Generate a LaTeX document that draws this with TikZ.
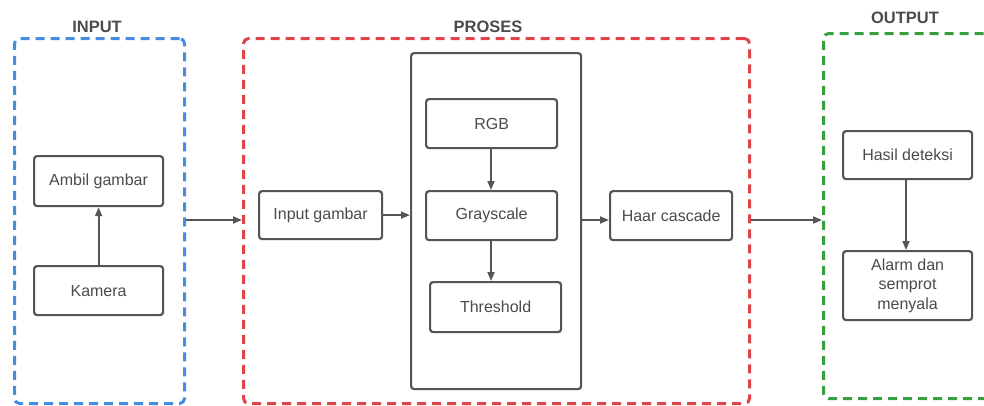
\documentclass[tikz,border=0pt]{standalone}
\usepackage{fontspec}
\setmainfont{Liberation Sans}
\usetikzlibrary{arrows.meta,positioning}
\definecolor{cblue}{RGB}{70,140,225}
\definecolor{cred}{RGB}{222,68,72}
\definecolor{cgreen}{RGB}{55,160,60}
\definecolor{cline}{RGB}{85,85,85}
\definecolor{ctext}{RGB}{75,75,75}
\tikzset{
  x=1pt, y=-1pt,
  group/.style={draw, line width=3pt, dash pattern=on 9pt off 6pt, rounded corners=5pt},
  boxnode/.style={draw=cline, line width=2.2pt, rounded corners=3pt, fill=white, text=ctext, font=\fontsize{16}{19.5}\selectfont, align=center, inner sep=0pt},
  title/.style={text=ctext, font=\bfseries\fontsize{16.5}{18}\selectfont},
  arr/.style={draw=cline, line width=1.8pt, -{Triangle[length=9pt,width=7pt]}}
}
\begin{document}
\begin{tikzpicture}
\useasboundingbox (0,0) rectangle (984,405);
\clip (0,0) rectangle (984,405);
% groups
\node[group, draw=cblue, minimum width=170pt, minimum height=365pt, anchor=north west] (gin) at (13,37) {};
\node[group, draw=cred, minimum width=506pt, minimum height=365pt, anchor=north west] (gpro) at (242,37) {};
\node[group, draw=cgreen, minimum width=180pt, minimum height=365pt, anchor=north west] (gout) at (822,32) {};
\node[title] (tin) at (97,27) {INPUT};
\node[title] (tpro) at (488,27) {PROSES};
\node[title] (tout) at (905,18) {OUTPUT};
% input
\node[boxnode, minimum width=129pt, minimum height=50pt, anchor=north west] (ambil) at (33,155) {Ambil gambar};
\node[boxnode, minimum width=129pt, minimum height=49pt, anchor=north west] (kamera) at (33,265) {Kamera};
% proses
\node[boxnode, minimum width=123pt, minimum height=48pt, anchor=north west] (ingam) at (258,190) {Input gambar};
\node[draw=cline, line width=2.2pt, rounded corners=3pt, minimum width=170pt, minimum height=336pt, anchor=north west, inner sep=0pt] (inner) at (410,52) {};
\node[boxnode, minimum width=131pt, minimum height=49pt, anchor=north west] (rgb) at (425,98) {RGB};
\node[boxnode, minimum width=131pt, minimum height=49pt, anchor=north west] (gray) at (425,190) {Grayscale};
\node[boxnode, minimum width=131pt, minimum height=50pt, anchor=north west] (thr) at (429,281) {Threshold};
\node[boxnode, minimum width=122pt, minimum height=49pt, anchor=north west] (haar) at (609,190) {Haar cascade};
% output
\node[boxnode, minimum width=129pt, minimum height=48pt, anchor=north west] (hasil) at (842,130) {Hasil deteksi};
\node[boxnode, minimum width=129pt, minimum height=69pt, anchor=north west] (alarm) at (842,250) {Alarm dan\\semprot\\menyala};
% arrows
\draw[arr] (kamera.north) -- (ambil.south);
\draw[arr] (gin.east |- 0,220) -- (gpro.west |- 0,220);
\draw[arr] (ingam.east) -- (inner.west |- ingam.east);
\draw[arr] (rgb.south -| 491,0) -- (gray.north -| 491,0);
\draw[arr] (gray.south -| 491,0) -- (thr.north -| 491,0);
\draw[arr] (inner.east |- 0,220) -- (haar.west |- 0,220);
\draw[arr] (gpro.east |- 0,220) -- (gout.west |- 0,220);
\draw[arr] (hasil.south -| 906,0) -- (alarm.north -| 906,0);
\end{tikzpicture}
\end{document}
